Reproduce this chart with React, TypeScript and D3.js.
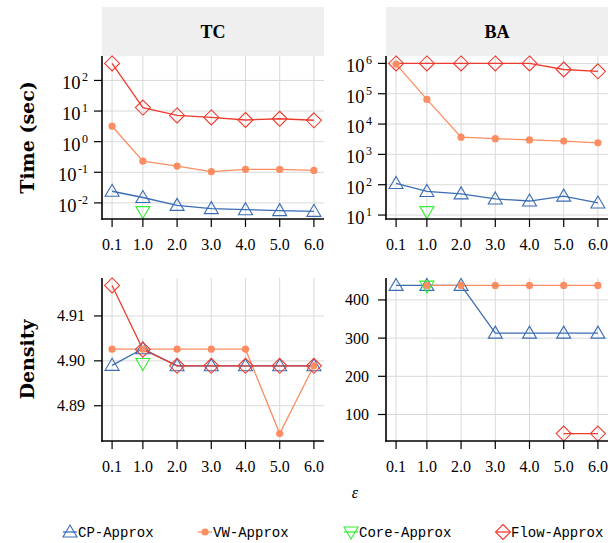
import { useEffect } from "react";
import * as d3 from "d3";

// x positions (epsilon) shared by every panel
const epsValues = [0.1, 1.0, 2.0, 3.0, 4.0, 5.0, 6.0];
const epsLabels = ["0.1", "1.0", "2.0", "3.0", "4.0", "5.0", "6.0"];
const coreEps = [1.0];

// TC - time (sec)
const tcTimeCP = [0.024, 0.015, 0.0083, 0.0065, 0.006, 0.0056, 0.0053];
const tcTimeVW = [3.2, 0.23, 0.16, 0.105, 0.125, 0.124, 0.115];
const tcTimeCore = [0.0052];
const tcTimeFlow = [360, 13, 7.2, 6.2, 5.1, 5.6, 5.0];

// BA - time (sec)
const baTimeCP = [110, 60, 50, 34, 29, 42, 25];
const baTimeVW = [950000, 65000, 3700, 3300, 3000, 2750, 2400];
const baTimeCore = [13];
const baTimeFlow = [1000000, 1000000, 1000000, 1000000, 1000000, 630000, 550000];

// TC - density
const tcDensCP = [4.899, 4.9027, 4.8989, 4.8989, 4.8989, 4.8989, 4.8989];
const tcDensVW = [4.9026, 4.9026, 4.9026, 4.9026, 4.9026, 4.8838, 4.8989];
const tcDensCore = [4.8994];
const tcDensFlow = [4.9168, 4.9025, 4.8989, 4.8989, 4.8989, 4.8989, 4.8989];

// BA - density (null = no result)
const baDensCP = [438, 438, 438, 313, 313, 313, 313];
const baDensVW = [null, 438, 438, 438, 438, 438, 438];
const baDensCore = [436];
const baDensFlow = [null, null, null, null, null, 50, 50];

const timeTicksTC = [-2, -1, 0, 1, 2];
const timeTicksBA = [1, 2, 3, 4, 5, 6];
const densTicksTC = [4.89, 4.9, 4.91];
const densTicksBA = [100, 200, 300, 400];

const methods = ["CP-Approx", "VW-Approx", "Core-Approx", "Flow-Approx"];
const colors = { "CP-Approx": "#3b6db4", "VW-Approx": "#fc8d62", "Core-Approx": "#33ee33", "Flow-Approx": "#ee3b2f" };

const SERIF = "'Liberation Serif', serif";
const MONO = "'Liberation Mono', monospace";

type Pt = { x: number; y: number };

function toPts(xs: number[], ys: (number | null)[]): Pt[] {
  return xs.map((x, i) => ({ x, y: ys[i] as number })).filter(d => d.y != null);
}

function Marker({ m, x, y }: { m: string; x: number; y: number }) {
  const c = (colors as any)[m];
  if (m === "CP-Approx") {
    return <path d={`M${x},${y - 7} L${x + 7},${y + 5} L${x - 7},${y + 5} Z`} fill="none" stroke={c} strokeWidth={1.1} />;
  }
  if (m === "Core-Approx") {
    return <path d={`M${x},${y + 7} L${x + 7},${y - 5} L${x - 7},${y - 5} Z`} fill="none" stroke={c} strokeWidth={1.1} />;
  }
  if (m === "Flow-Approx") {
    return <path d={`M${x},${y - 7.5} L${x + 7.5},${y} L${x},${y + 7.5} L${x - 7.5},${y} Z`} fill="none" stroke={c} strokeWidth={1.1} />;
  }
  return <circle cx={x} cy={y} r={3.6} fill={c} />;
}

type PanelProps = {
  left: number; top: number; width: number; height: number;
  log: boolean;
  series: { m: string; pts: Pt[] }[];
  ticks: number[];
  strip?: string;
};

function Panel({ left, top, width, height, log, series, ticks, strip }: PanelProps) {
  // ggplot-like 5% expansion on both axes
  const x = d3.scaleLinear().domain([0.1 - 0.295, 6 + 0.295]).range([left, left + width]);
  const allY = series.flatMap(s => s.pts.map(p => (log ? Math.log10(p.y) : p.y)));
  const [lo, hi] = d3.extent(allY) as [number, number];
  const pad = (hi - lo) * 0.05;
  const yT = d3.scaleLinear().domain([lo - pad, hi + pad]).range([top + height, top]);
  const y = (v: number) => yT(log ? Math.log10(v) : v);
  const line = d3.line<Pt>().x(d => x(d.x)).y(d => y(d.y));
  const bottom = top + height;

  return (
    <g>
      {strip && (
        <g>
          <rect x={left} y={7} width={width} height={top - 7} fill="#efefef" />
          <text x={left + width / 2} y={(7 + top) / 2 + 6} textAnchor="middle" fontFamily={SERIF} fontWeight="bold" fontSize={18}>{strip}</text>
        </g>
      )}
      {ticks.map(t => (
        <line key={"gy" + t} x1={left} x2={left + width} y1={yT(t)} y2={yT(t)} stroke="#d9d9d9" strokeWidth={1} />
      ))}
      {epsValues.map(v => (
        <line key={"gx" + v} x1={x(v)} x2={x(v)} y1={top} y2={bottom} stroke="#d9d9d9" strokeWidth={1} />
      ))}
      {series.map(s => (
        s.pts.length > 1 ? <path key={"l" + s.m} d={line(s.pts) as string} fill="none" stroke={(colors as any)[s.m]} strokeWidth={1.3} /> : null
      ))}
      {series.map(s => s.pts.map((p, i) => <Marker key={s.m + i} m={s.m} x={x(p.x)} y={y(p.y)} />))}
      <line x1={left} x2={left} y1={top} y2={bottom + 0.75} stroke="#000" strokeWidth={1.6} />
      <line x1={left - 0.75} x2={left + width} y1={bottom} y2={bottom} stroke="#000" strokeWidth={1.6} />
      {epsValues.map((v, i) => (
        <g key={"xt" + v}>
          <line x1={x(v)} x2={x(v)} y1={bottom} y2={bottom + 8} stroke="#000" strokeWidth={1.2} />
          <text x={x(v)} y={bottom + 31} textAnchor="middle" fontFamily={SERIF} fontSize={16}>{epsLabels[i]}</text>
        </g>
      ))}
      {ticks.map(t => (
        <g key={"yt" + t}>
          <line x1={left - 8} x2={left} y1={yT(t)} y2={yT(t)} stroke="#000" strokeWidth={1.2} />
          {log ? (
            <text x={left - 14} y={yT(t) + 9} textAnchor="end" fontFamily={SERIF} fontSize={18.5}>
              10<tspan dx={1.5} dy={-8} fontSize={12}>{t}</tspan>
            </text>
          ) : (
            <text x={left - 17} y={yT(t) + 5.5} textAnchor="end" fontFamily={SERIF} fontSize={16}>
              {t >= 100 ? d3.format("d")(t) : d3.format(".2f")(t)}
            </text>
          )}
        </g>
      ))}
    </g>
  );
}

export default function App() {
  useEffect(() => {
    document.body.style.margin = "0";
  }, []);

  const L1 = 102, L2 = 386, W = 222, T1 = 56, T2 = 278, H = 163;

  const mk = (cp: (number | null)[], vw: (number | null)[], core: number[], flow: (number | null)[]) => [
    { m: "CP-Approx", pts: toPts(epsValues, cp) },
    { m: "VW-Approx", pts: toPts(epsValues, vw) },
    { m: "Core-Approx", pts: toPts(coreEps, core) },
    { m: "Flow-Approx", pts: toPts(epsValues, flow) },
  ];

  const legendX = [70, 205, 351, 503];

  return (
    <svg width={616} height={543} style={{ display: "block", background: "#fff" }}>
      <rect width={616} height={543} fill="#fff" />
      <Panel left={L1} top={T1} width={W} height={H} log strip="TC" series={mk(tcTimeCP, tcTimeVW, tcTimeCore, tcTimeFlow)} ticks={timeTicksTC} />
      <Panel left={L2} top={T1} width={W} height={H} log strip="BA" series={mk(baTimeCP, baTimeVW, baTimeCore, baTimeFlow)} ticks={timeTicksBA} />
      <Panel left={L1} top={T2} width={W} height={H} log={false} series={mk(tcDensCP, tcDensVW, tcDensCore, tcDensFlow)} ticks={densTicksTC} />
      <Panel left={L2} top={T2} width={W} height={H} log={false} series={mk(baDensCP, baDensVW, baDensCore, baDensFlow)} ticks={densTicksBA} />

      <text transform={`translate(34,${T1 + H / 2}) rotate(-90)`} textAnchor="middle" fontFamily="'DejaVu Serif', serif" fontWeight="bold" fontSize={19}>Time (sec)</text>
      <text transform={`translate(34,${T2 + H / 2}) rotate(-90)`} textAnchor="middle" fontFamily="'DejaVu Serif', serif" fontWeight="bold" fontSize={19}>Density</text>

      <text x={355} y={498} textAnchor="middle" fontFamily={SERIF} fontStyle="italic" fontSize={16}>ε</text>

      {methods.map((m, i) => (
        <g key={m}>
          <line x1={legendX[i] - 7} x2={legendX[i] + 7} y1={532} y2={532} stroke={(colors as any)[m]} strokeWidth={1.3} />
          <Marker m={m} x={legendX[i]} y={532} />
          <text x={legendX[i] + 8} y={536.5} fontFamily={MONO} fontSize={14}>{m}</text>
        </g>
      ))}
    </svg>
  );
}
